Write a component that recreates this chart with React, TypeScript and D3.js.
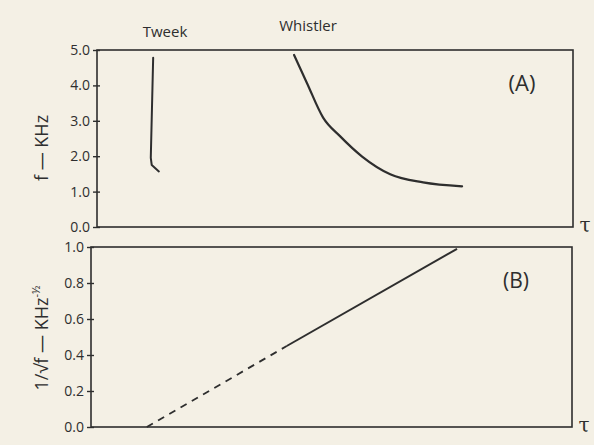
import { useEffect, useRef } from "react";
import * as d3 from "d3";

// panel A: frequency f (kHz) vs tau
const freqTicks = [0, 1, 2, 3, 4, 5];
const tweekTau = [1.18, 1.13, 1.15, 1.3];
const tweekF = [4.78, 1.95, 1.75, 1.57];
const whistlerTau = [4.14, 4.41, 4.75, 5.11, 5.57, 6.16, 6.85, 7.67];
const whistlerF = [4.86, 4.07, 3.09, 2.56, 1.99, 1.49, 1.26, 1.15];

// panel B: 1/sqrt(f) vs tau
const invTicks = [0, 0.2, 0.4, 0.6, 0.8, 1.0];
const dashedTau = [1.16, 4.07];
const dashedInv = [0.0, 0.45];
const solidTau = [4.07, 7.61];
const solidInv = [0.45, 0.99];

const W = 594;
const H = 445;
const INK = "#2e2e2e";
const FONT = "'Open Sans', 'DejaVu Sans', sans-serif";

type Pt = [number, number];

const App = () => {
  const svgRef = useRef<SVGSVGElement | null>(null);

  useEffect(() => {
    if (!svgRef.current) return;
    const svg = d3.select(svgRef.current);
    svg.selectAll("*").remove();

    svg.append("rect").attr("width", W).attr("height", H).attr("fill", "#f4f0e5");

    const panel = (
      left: number,
      right: number,
      top: number,
      bottom: number,
      yDomain: [number, number],
      ticks: number[],
      fmt: (v: number) => string
    ) => {
      const x = d3.scaleLinear().domain([0, 10]).range([left, right]);
      const y = d3.scaleLinear().domain(yDomain).range([bottom, top]);

      svg
        .append("rect")
        .attr("x", left)
        .attr("y", top)
        .attr("width", right - left)
        .attr("height", bottom - top)
        .attr("fill", "none")
        .attr("stroke", INK)
        .attr("stroke-width", 1.6);

      const axis = d3
        .axisLeft(y)
        .tickValues(ticks)
        .tickFormat((d) => fmt(d as number))
        .tickSize(4)
        .tickPadding(3);

      const g = svg.append("g").attr("transform", `translate(${left},0)`).call(axis);
      g.select(".domain").remove();
      g.selectAll(".tick line").attr("stroke", INK).attr("stroke-width", 1.4).attr("x2", 3).attr("x1", -4);
      g.selectAll(".tick text")
        .attr("fill", INK)
        .attr("font-family", FONT)
        .attr("font-size", 14);

      // tau label at right end of the x axis
      svg
        .append("text")
        .attr("x", right + 12)
        .attr("y", bottom + 5)
        .attr("text-anchor", "middle")
        .attr("font-family", "'DejaVu Serif', serif")
        .attr("font-size", 20)
        .attr("fill", INK)
        .text("τ");

      return { x, y };
    };

    // ---- panel A
    const a = panel(97, 573, 50, 227, [0, 5], freqTicks, (v) => v.toFixed(1));

    const lineA = d3
      .line<Pt>()
      .x((d) => a.x(d[0]))
      .y((d) => a.y(d[1]));

    svg
      .append("path")
      .datum(tweekTau.map((t, i) => [t, tweekF[i]] as Pt))
      .attr("fill", "none")
      .attr("stroke", INK)
      .attr("stroke-width", 2)
      .attr("stroke-linecap", "round")
      .attr("stroke-linejoin", "round")
      .attr("d", lineA.curve(d3.curveLinear));

    svg
      .append("path")
      .datum(whistlerTau.map((t, i) => [t, whistlerF[i]] as Pt))
      .attr("fill", "none")
      .attr("stroke", INK)
      .attr("stroke-width", 2.2)
      .attr("stroke-linecap", "round")
      .attr("d", lineA.curve(d3.curveMonotoneX));

    const label = (x: number, y: number, txt: string, size: number) =>
      svg
        .append("text")
        .attr("x", x)
        .attr("y", y)
        .attr("text-anchor", "middle")
        .attr("font-family", FONT)
        .attr("font-size", size)
        .attr("fill", INK)
        .text(txt);

    label(165, 37, "Tweek", 15);
    label(308, 31, "Whistler", 15);
    label(522, 91, "(A)", 22);

    svg
      .append("text")
      .attr("transform", "translate(48,148) rotate(-90)")
      .attr("text-anchor", "middle")
      .attr("font-family", FONT)
      .attr("font-size", 18)
      .attr("fill", INK)
      .text("f — KHz");

    // ---- panel B
    const b = panel(91, 572, 247, 427, [0, 1], invTicks, (v) => v.toFixed(1));

    const lineB = d3
      .line<Pt>()
      .x((d) => b.x(d[0]))
      .y((d) => b.y(d[1]));

    svg
      .append("path")
      .datum(dashedTau.map((t, i) => [t, dashedInv[i]] as Pt))
      .attr("fill", "none")
      .attr("stroke", INK)
      .attr("stroke-width", 1.8)
      .attr("stroke-dasharray", "7,6")
      .attr("d", lineB);

    svg
      .append("path")
      .datum(solidTau.map((t, i) => [t, solidInv[i]] as Pt))
      .attr("fill", "none")
      .attr("stroke", INK)
      .attr("stroke-width", 2)
      .attr("d", lineB);

    label(516, 288, "(B)", 21);

    const yl = svg
      .append("text")
      .attr("transform", "translate(48,338) rotate(-90)")
      .attr("text-anchor", "middle")
      .attr("font-family", FONT)
      .attr("font-size", 18)
      .attr("fill", INK);
    yl.append("tspan").text("1/√f — KHz");
    yl.append("tspan").attr("dy", -8).attr("font-size", 11).text("-½");
  }, []);

  return (
    <svg
      ref={svgRef}
      width={W}
      height={H}
      style={{ position: "absolute", left: 0, top: 0, display: "block" }}
    />
  );
};

export default App;
